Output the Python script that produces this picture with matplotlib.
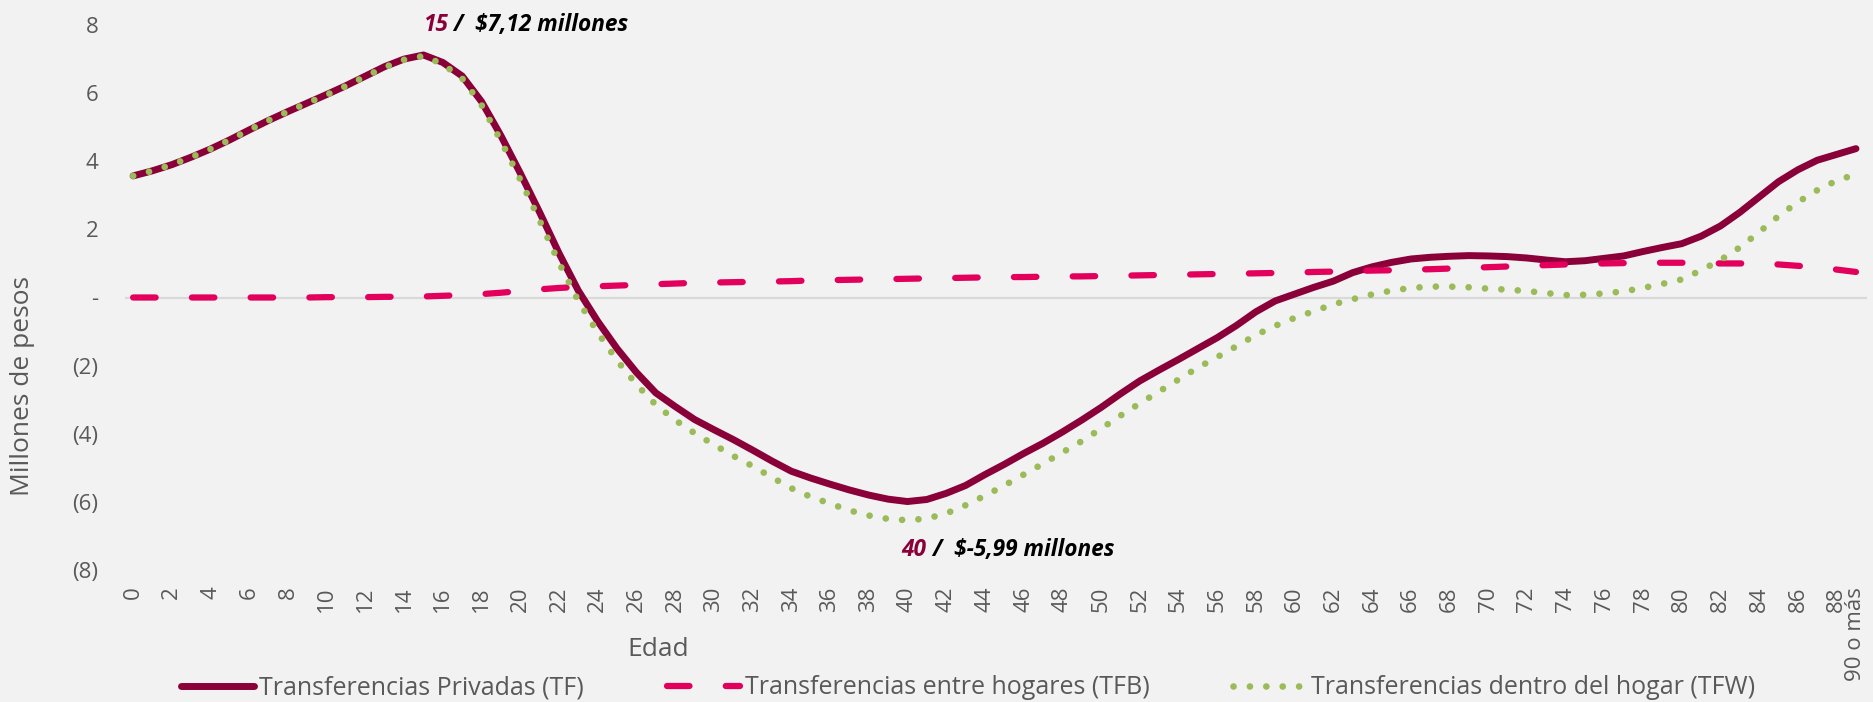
import matplotlib
matplotlib.use("Agg")
import matplotlib.pyplot as plt
from matplotlib.lines import Line2D

# edades 0..89, la ultima posicion es "90 o más"
edades = list(range(90))
etiquetas = [str(e) if e % 2 == 0 else "" for e in range(89)] + ["90 o más"]

# Transferencias Privadas (TF), millones de pesos
tf = [3.57, 3.72, 3.90, 4.12, 4.36, 4.63, 4.92, 5.20, 5.46, 5.71,
      5.96, 6.22, 6.50, 6.78, 7.00, 7.12, 6.90, 6.50, 5.75, 4.75,
      3.65, 2.50, 1.30, 0.20, -0.70, -1.50, -2.20, -2.80, -3.20, -3.58,
      -3.88, -4.17, -4.48, -4.80, -5.10, -5.30, -5.48, -5.65, -5.80, -5.92,
      -5.99, -5.93, -5.75, -5.52, -5.20, -4.90, -4.58, -4.28, -3.95, -3.60,
      -3.23, -2.83, -2.45, -2.13, -1.82, -1.50, -1.18, -0.82, -0.42, -0.10,
      0.10, 0.30, 0.48, 0.73, 0.90, 1.03, 1.13, 1.18, 1.21, 1.23,
      1.22, 1.20, 1.16, 1.10, 1.05, 1.08, 1.15, 1.22, 1.35, 1.47,
      1.58, 1.80, 2.10, 2.50, 2.95, 3.40, 3.75, 4.03, 4.20, 4.37]

# Transferencias entre hogares (TFB)
tfb = [0.00, 0.00, 0.00, 0.00, 0.00, 0.00, 0.00, 0.00, 0.00, 0.00,
       0.01, 0.01, 0.01, 0.02, 0.02, 0.03, 0.05, 0.07, 0.10, 0.14,
       0.19, 0.24, 0.28, 0.31, 0.33, 0.35, 0.37, 0.39, 0.41, 0.43,
       0.44, 0.45, 0.46, 0.47, 0.48, 0.50, 0.51, 0.52, 0.53, 0.54,
       0.55, 0.56, 0.57, 0.58, 0.59, 0.60, 0.60, 0.61, 0.62, 0.62,
       0.63, 0.64, 0.65, 0.66, 0.67, 0.68, 0.69, 0.70, 0.71, 0.72,
       0.73, 0.75, 0.76, 0.78, 0.79, 0.80, 0.82, 0.83, 0.85, 0.87,
       0.89, 0.91, 0.93, 0.95, 0.97, 0.99, 1.00, 1.01, 1.02, 1.02,
       1.02, 1.01, 1.00, 1.00, 0.99, 0.97, 0.93, 0.88, 0.82, 0.75]

# Transferencias dentro del hogar (TFW)
tfw = [3.57, 3.72, 3.90, 4.12, 4.36, 4.63, 4.92, 5.20, 5.46, 5.71,
       5.95, 6.21, 6.49, 6.76, 6.98, 7.09, 6.85, 6.43, 5.65, 4.60,
       3.46, 2.26, 1.02, -0.10, -1.03, -1.85, -2.55, -3.15, -3.60, -3.98,
       -4.32, -4.65, -4.95, -5.28, -5.60, -5.85, -6.05, -6.25, -6.40, -6.50,
       -6.54, -6.49, -6.34, -6.10, -5.82, -5.52, -5.20, -4.88, -4.55, -4.22,
       -3.85, -3.47, -3.11, -2.76, -2.41, -2.06, -1.75, -1.43, -1.10, -0.83,
       -0.60, -0.40, -0.20, -0.05, 0.09, 0.20, 0.28, 0.32, 0.32, 0.30,
       0.26, 0.23, 0.19, 0.13, 0.07, 0.08, 0.12, 0.18, 0.28, 0.40,
       0.53, 0.80, 1.10, 1.47, 1.92, 2.39, 2.80, 3.15, 3.43, 3.62]

c_tf = "#8a0038"
c_tfb = "#e2005c"
c_tfw = "#9bbb59"
gris = "#595959"
fondo = "#f2f2f2"

plt.rcParams["font.family"] = ["Open Sans", "DejaVu Sans"]

fig = plt.figure(figsize=(18.73, 7.02), dpi=100, facecolor=fondo)
ax = fig.add_axes([125 / 1873, 1 - 570 / 702, (1867 - 125) / 1873, (570 - 25) / 702])
ax.set_facecolor(fondo)

ax.axhline(0, color="#d9d9d9", lw=1.6, zorder=1)

ax.plot(edades, tf, color=c_tf, lw=5.0, solid_capstyle="round", zorder=2)
l_tfb, = ax.plot(edades, tfb, color=c_tfb, lw=4.5, dash_capstyle="round", zorder=3)
l_tfb.set_dashes([3.6, 5.8])
l_tfw, = ax.plot(edades, tfw, color=c_tfw, lw=4.8, dash_capstyle="round", zorder=4)
l_tfw.set_dashes([0.01, 2.45])

ax.set_xlim(-0.42, 89.57)
ax.set_ylim(-8, 8)
for s in ax.spines.values():
    s.set_visible(False)

ax.set_yticks(range(-8, 9, 2))
ax.set_yticklabels([("(%d)" % -v) if v < 0 else ("-" if v == 0 else str(v)) for v in range(-8, 9, 2)])
ax.set_xticks(edades)
ax.set_xticklabels(etiquetas, rotation=90, va="top", ha="center")
ax.tick_params(axis="both", length=0, labelsize=16, colors=gris)
ax.tick_params(axis="y", pad=19)
ax.tick_params(axis="x", pad=12)

fig.text(23 / 1873, 1 - 386 / 702, "Millones de pesos", rotation=90, ha="center", va="center",
         fontsize=19, color=gris)
fig.text(658 / 1873, 1 - 649 / 702, "Edad", ha="center", va="center", fontsize=19, color=gris)

# anotaciones de maximo y minimo
t1 = ax.text(15, 8.0, "15", color=c_tf, fontsize=16.3, fontweight="bold", style="italic", va="center")
ax.annotate(" /  $7,12 millones", xy=(1, 0.5), xycoords=t1, va="center", fontsize=16.3,
            fontweight="bold", style="italic", color="black")
t2 = ax.text(39.7, -7.41, "40", color=c_tf, fontsize=16.3, fontweight="bold", style="italic", va="center")
ax.annotate(" /  $-5,99 millones", xy=(1, 0.5), xycoords=t2, va="center", fontsize=16.3,
            fontweight="bold", style="italic", color="black")

h1 = Line2D([], [], color=c_tf, lw=5.0, solid_capstyle="round")
h2 = Line2D([], [], color=c_tfb, lw=4.5, dash_capstyle="round", dashes=[3.6, 5.8])
h3 = Line2D([], [], color=c_tfw, lw=4.8, dash_capstyle="round", dashes=[0.01, 2.45])
fig.legend([h1, h2, h3],
           ["Transferencias Privadas (TF)", "Transferencias entre hogares (TFB)",
            "Transferencias dentro del hogar (TFW)"],
           loc="center", bbox_to_anchor=(968 / 1873, 1 - 688 / 702), ncol=3, frameon=False,
           fontsize=18, labelcolor=gris, handlelength=2.95, handletextpad=0.2,
           columnspacing=3.3, borderpad=0)

fig.savefig("out.png", dpi=100, facecolor=fondo)
